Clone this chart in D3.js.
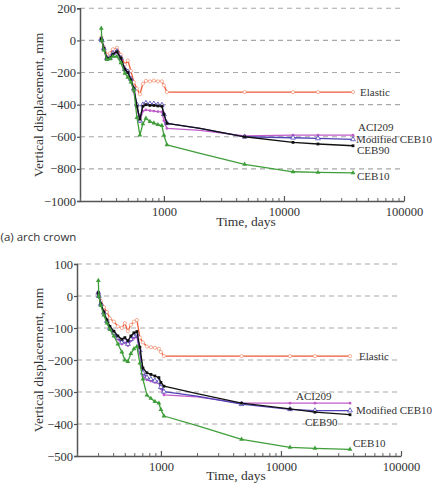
<!DOCTYPE html>
<html>
<head>
<meta charset="utf-8">
<script src="https://cdn.jsdelivr.net/npm/d3@7"></script>
<style>
  html, body { margin: 0; padding: 0; background: #fff; }
  svg { display: block; }
</style>
</head>
<body>
<svg id="chart" width="435" height="494"></svg>
<script>
// ---------------- DATA ----------------
const days = [301, 304, 316, 335, 355, 376, 406, 438, 473, 501, 531, 562, 596, 631, 668, 708, 765, 825, 891, 962, 1000, 1060, 2000, 4700, 11900, 19200, 37600];

const seriesNames = ["Elastic", "ACI209", "Modified CEB10", "CEB90", "CEB10"];

// (a) arch crown – upper panel
const topElastic   = [20, 0, -40, -90, -80, -55, -46, -90, -150, -125, -190, -260, -300, -335, -270, -252, -255, -250, -255, -255, -280, -322, -322, -322, -322, -322, -322];
const topACI209    = [10, 0, -55, -115, -115, -90, -75, -115, -185, -200, -250, -320, -420, -505, -440, -433, -437, -440, -443, -445, -500, -548, -560, -595, -590, -590, -590];
const topModCEB10  = [10, 0, -50, -110, -110, -80, -68, -110, -180, -195, -240, -300, -400, -500, -400, -390, -395, -395, -400, -402, -460, -516, -548, -600, -606, -610, -616];
const topCEB90     = [10, 0, -50, -110, -110, -85, -70, -110, -180, -200, -245, -300, -410, -490, -410, -400, -405, -405, -408, -410, -460, -516, -548, -600, -635, -645, -656];
const topCEB10     = [75, 0, -60, -120, -115, -100, -100, -140, -205, -230, -260, -310, -480, -590, -520, -485, -505, -515, -525, -530, -590, -650, -703, -772, -818, -822, -825];

// lower panel
const botElastic   = [10, 0, -15, -35, -50, -70, -80, -95, -100, -85, -110, -90, -80, -75, -130, -145, -158, -160, -162, -165, -175, -188, -188, -188, -188, -188, -188];
const botACI209    = [10, 0, -25, -55, -80, -105, -120, -135, -150, -145, -155, -140, -132, -128, -180, -250, -262, -266, -270, -272, -290, -309, -315, -335, -335, -335, -335];
const botModCEB10  = [10, 0, -25, -52, -78, -100, -115, -130, -145, -140, -150, -135, -125, -120, -170, -240, -255, -260, -265, -268, -285, -299, -313, -338, -354, -358, -358];
const botCEB90     = [10, 0, -25, -50, -75, -95, -110, -125, -135, -130, -140, -125, -115, -111, -160, -225, -240, -245, -250, -255, -270, -282, -305, -335, -353, -363, -371];
const botCEB10     = [48, 0, -30, -60, -85, -105, -125, -150, -175, -200, -205, -180, -165, -158, -210, -260, -310, -320, -330, -335, -355, -375, -405, -448, -473, -476, -479];

const topYTicks = [-1000, -800, -600, -400, -200, 0, 200];
const botYTicks = [-500, -400, -300, -200, -100, 0, 100];
const xMajorTicks = [1000, 10000, 100000];

const xTitle = "Time, days";
const yTitle = "Vertical displacement, mm";
const panelCaption = "(a) arch crown";

// ---------------- STYLE ----------------
const colors = {
  "Elastic": "#ee5a36",
  "ACI209": "#c05cc8",
  "Modified CEB10": "#4f43b6",
  "CEB90": "#111111",
  "CEB10": "#3f9e3a"
};
const serif = "'Liberation Serif', 'DejaVu Serif', serif";

const svg = d3.select("#chart");

function drawPanel(cfg) {
  const x = d3.scaleLog().domain([200, 100000]).range([cfg.left, cfg.right]);
  const y = d3.scaleLinear().domain(cfg.yDomain).range([cfg.bottom, cfg.top]);
  const g = svg.append("g");

  // grid lines
  g.append("g").selectAll("line")
    .data(cfg.yTicks.filter(v => v !== cfg.yDomain[0]))
    .join("line")
    .attr("x1", cfg.left).attr("x2", cfg.right)
    .attr("y1", d => y(d)).attr("y2", d => y(d))
    .attr("stroke", "#a8a8a8").attr("stroke-width", 1.1)
    .attr("stroke-dasharray", "5,4");

  // series
  const line = d3.line().x(d => x(d[0])).y(d => y(d[1]));
  cfg.series.forEach(s => {
    const pts = days.map((d, i) => [d, s.values[i]]);
    const c = colors[s.name];
    g.append("path").datum(pts)
      .attr("fill", "none").attr("stroke", c)
      .attr("stroke-width", 1.3).attr("stroke-linejoin", "round")
      .attr("d", line);
    const mk = pts.filter(p => p[0] !== 2000);
    const mg = g.append("g");
    if (s.name === "CEB90") {
      mg.selectAll("rect").data(mk).join("rect")
        .attr("x", p => x(p[0]) - 1.4).attr("y", p => y(p[1]) - 1.4)
        .attr("width", 2.8).attr("height", 2.8).attr("fill", c);
    } else if (s.name === "CEB10") {
      mg.selectAll("path").data(mk).join("path")
        .attr("transform", p => `translate(${x(p[0])},${y(p[1])})`)
        .attr("d", d3.symbol(d3.symbolTriangle, 10))
        .attr("fill", c);
    } else if (s.name === "Modified CEB10") {
      mg.selectAll("path").data(mk).join("path")
        .attr("transform", p => `translate(${x(p[0])},${y(p[1])})`)
        .attr("d", d3.symbol(d3.symbolTriangle, 10))
        .attr("fill", "#fff").attr("stroke", c).attr("stroke-width", 0.8);
    } else if (s.name === "Elastic") {
      mg.selectAll("circle").data(mk).join("circle")
        .attr("cx", p => x(p[0])).attr("cy", p => y(p[1])).attr("r", 1.6)
        .attr("fill", "#fff").attr("stroke", "#f59a80").attr("stroke-width", 0.8);
    } else {
      mg.selectAll("circle").data(mk).join("circle")
        .attr("cx", p => x(p[0])).attr("cy", p => y(p[1])).attr("r", 1.4)
        .attr("fill", c);
    }
  });

  // y axis
  const ya = g.append("g").attr("transform", `translate(${cfg.left},0)`)
    .call(d3.axisLeft(y).tickValues(cfg.yTicks).tickSize(3).tickPadding(1).tickFormat(d3.format("d")));
  ya.select(".domain").attr("stroke", "#555").attr("stroke-width", 1.5);
  ya.selectAll(".tick line").attr("stroke", "#555").attr("stroke-width", 1.2);
  ya.selectAll("text").attr("font-family", serif).attr("font-size", 12.5).attr("fill", "#333");

  // x axis minor ticks
  const minor = [];
  for (let e = 100; e <= 10000; e *= 10)
    for (let k = 2; k <= 9; k++) if (e * k >= 200) minor.push(e * k);
  const xm = g.append("g").attr("transform", `translate(0,${cfg.bottom})`)
    .call(d3.axisBottom(x).tickValues(minor).tickSize(-3).tickFormat(""));
  xm.select(".domain").remove();
  xm.selectAll(".tick line").attr("stroke", "#666").attr("stroke-width", 1);

  const xa = g.append("g").attr("transform", `translate(0,${cfg.bottom})`)
    .call(d3.axisBottom(x).tickValues(xMajorTicks).tickSizeInner(-5).tickSizeOuter(0).tickPadding(6).tickFormat(d3.format("d")));
  xa.select(".domain").attr("stroke", "#555").attr("stroke-width", 1.5);
  xa.selectAll(".tick line").attr("stroke", "#555").attr("stroke-width", 1.2);
  xa.selectAll("text").attr("font-family", serif).attr("font-size", 12.5).attr("fill", "#333");

  // titles
  g.append("text").attr("x", cfg.xTitleX).attr("y", cfg.xTitleY)
    .attr("text-anchor", "middle").attr("font-family", serif).attr("font-size", 13.5)
    .attr("fill", "#333").text(xTitle);
  g.append("text")
    .attr("transform", `translate(${cfg.yTitleX},${cfg.yTitleY}) rotate(-90)`)
    .attr("text-anchor", "middle").attr("font-family", serif).attr("font-size", 13.5)
    .attr("fill", "#333").text(yTitle);

  // series labels
  cfg.labels.forEach(l => {
    g.append("text").attr("x", l[1]).attr("y", l[2])
      .attr("font-family", serif).attr("font-size", 11).attr("fill", "#333").text(l[0]);
  });
}

drawPanel({
  left: 80, right: 404, top: 8.3, bottom: 201,
  yDomain: [-1000, 200], yTicks: topYTicks,
  series: [
    { name: "Elastic", values: topElastic },
    { name: "ACI209", values: topACI209 },
    { name: "Modified CEB10", values: topModCEB10 },
    { name: "CEB90", values: topCEB90 },
    { name: "CEB10", values: topCEB10 }
  ],
  xTitleX: 246, xTitleY: 226, yTitleX: 43, yTitleY: 105,
  labels: [["Elastic", 360, 96], ["ACI209", 358, 131], ["Modified CEB10", 356, 142.5], ["CEB90", 357, 154], ["CEB10", 357, 180]]
});

drawPanel({
  left: 77, right: 401, top: 264, bottom: 456,
  yDomain: [-500, 100], yTicks: botYTicks,
  series: [
    { name: "Elastic", values: botElastic },
    { name: "ACI209", values: botACI209 },
    { name: "Modified CEB10", values: botModCEB10 },
    { name: "CEB90", values: botCEB90 },
    { name: "CEB10", values: botCEB10 }
  ],
  xTitleX: 236, xTitleY: 480, yTitleX: 43, yTitleY: 360,
  labels: [["Elastic", 359, 360], ["ACI209", 296, 400], ["Modified CEB10", 356, 414], ["CEB90", 305, 426], ["CEB10", 353, 447]]
});

svg.append("text").attr("x", 0.5).attr("y", 241)
  .attr("font-family", "'Open Sans', 'Noto Sans', sans-serif").attr("font-size", 11.5)
  .attr("fill", "#333").text(panelCaption);
</script>
</body>
</html>
